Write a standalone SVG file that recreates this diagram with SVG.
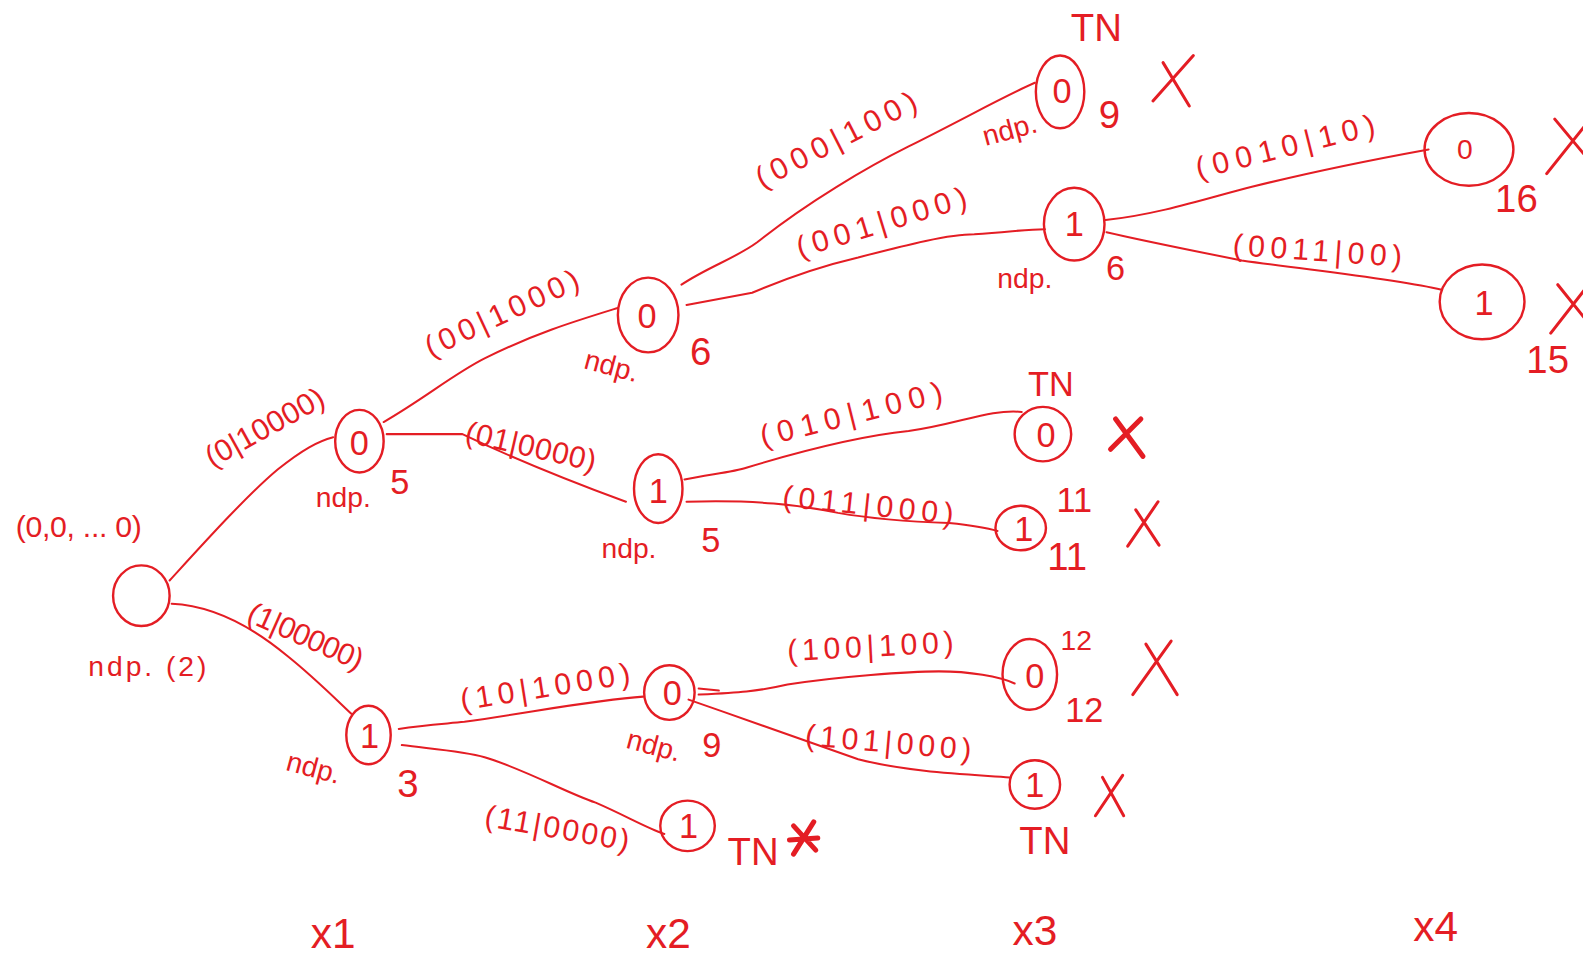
<svg xmlns="http://www.w3.org/2000/svg" width="1583" height="956" viewBox="0 0 1583 956">
<style>
.e{fill:none;stroke:#e41d24;stroke-width:2;stroke-linecap:round;stroke-linejoin:round}
.n{fill:none;stroke:#e41d24;stroke-width:2.4}
.x{fill:none;stroke:#e41d24;stroke-width:3;stroke-linecap:round}
.xb{fill:none;stroke:#e41d24;stroke-width:5;stroke-linecap:round}
text{fill:#e41d24;font-family:"Liberation Sans",Arial,sans-serif;text-anchor:middle;dominant-baseline:central}
.l{font-size:30px}
.d{font-size:34px}
.s{font-size:28px}
.b{font-size:38px}
.ax{font-size:42px}
</style>
<rect width="1583" height="956" fill="#fff"/>
<g transform="scale(1.0096)">
<g id="connectors">
<path class="e" d="M168,575 C200,540 245,490 275,465 C300,445 315,437 330,433"/>
<text class="l" x="262" y="423" transform="rotate(-29 262 423)" textLength="130" lengthAdjust="spacing">(0|10000)</text>
<path class="e" d="M170,598 C215,600 255,625 285,650 C310,670 330,690 348,707"/>
<text class="l" x="303" y="630" transform="rotate(24 303 630)" textLength="122" lengthAdjust="spacing">(1|00000)</text>
<path class="e" d="M380,418 C420,395 450,370 480,355 C530,330 570,318 612,305"/>
<text class="l" x="497" y="310" transform="rotate(-25 497 310)" textLength="165" lengthAdjust="spacing">(00|1000)</text>
<path class="e" d="M383,430 L458,430 C500,450 560,475 620,497"/>
<text class="l" x="526" y="442" transform="rotate(13 526 442)" textLength="132" lengthAdjust="spacing">(01|0000)</text>
<path class="e" d="M675,282 C700,265 730,255 750,240 C800,200 860,165 900,145 C960,115 995,95 1025,82"/>
<text class="l" x="828" y="138" transform="rotate(-27 828 138)" textLength="175" lengthAdjust="spacing">(000|100)</text>
<path class="e" d="M680,302 L745,290 C780,275 820,262 850,255 C900,242 940,232 965,232 C1000,230 1015,227 1035,227"/>
<text class="l" x="873" y="220" transform="rotate(-17 873 220)" textLength="175" lengthAdjust="spacing">(001|000)</text>
<path class="e" d="M1095,218 C1150,212 1200,195 1240,185 C1300,170 1360,158 1415,148"/>
<text class="l" x="1273" y="145" transform="rotate(-14 1273 145)" textLength="182" lengthAdjust="spacing">(0010|10)</text>
<path class="e" d="M1096,230 C1130,238 1190,250 1230,258 C1300,268 1380,276 1428,287"/>
<text class="l" x="1305" y="248" transform="rotate(4 1305 248)" textLength="168" lengthAdjust="spacing">(0011|00)</text>
<path class="e" d="M678,475 C700,470 725,468 740,463 C790,448 850,432 900,427 C950,420 980,405 1012,408"/>
<text class="l" x="843" y="410" transform="rotate(-14 843 410)" textLength="185" lengthAdjust="spacing">(010|100)</text>
<path class="e" d="M680,497 C750,495 790,500 830,508 C870,515 910,517 940,518 C960,520 975,522 988,526"/>
<text class="l" x="860" y="500" transform="rotate(6 860 500)" textLength="170" lengthAdjust="spacing">(011|000)</text>
<path class="e" d="M395,722 C420,718 440,717 460,715 C530,705 590,693 637,690"/>
<text class="l" x="540" y="680" transform="rotate(-9 540 680)" textLength="170" lengthAdjust="spacing">(10|1000)</text>
<path class="e" d="M398,738 C430,742 460,744 480,750 C520,762 560,785 590,795 C620,808 640,820 658,826"/>
<text class="l" x="552" y="820" transform="rotate(10 552 820)" textLength="145" lengthAdjust="spacing">(11|0000)</text>
<path class="e" d="M692,682 L712,684 M692,688 C730,686 750,685 780,678 C830,670 900,665 930,665 C960,665 990,670 1005,677"/>
<text class="l" x="862" y="640" transform="rotate(-3 862 640)" textLength="165" lengthAdjust="spacing">(100|100)</text>
<path class="e" d="M682,693 C740,713 800,735 850,752 C900,765 960,767 1000,770"/>
<text class="l" x="880" y="735" transform="rotate(5 880 735)" textLength="165" lengthAdjust="spacing">(101|000)</text>
</g>
<g id="root">
<ellipse class="n" cx="140" cy="590" rx="28" ry="30"/>
<text class="l" x="78" y="522" textLength="125" lengthAdjust="spacing">(0,0, ... 0)</text>
<text class="s" x="146" y="660" textLength="117" lengthAdjust="spacing">ndp. (2)</text>
</g>
<g id="n0">
<ellipse class="n" cx="356" cy="437" rx="24" ry="31"/>
<text class="d" x="356" y="439">0</text>
<text class="s" x="340" y="492">ndp.</text>
<text class="d" x="396" y="477">5</text>
</g>
<g id="n1">
<ellipse class="n" cx="365" cy="728" rx="22" ry="29"/>
<text class="d" x="366" y="729">1</text>
<text class="s" x="311" y="760" transform="rotate(15 311 760)">ndp.</text>
<text class="b" x="404" y="776">3</text>
</g>
<g id="n00">
<ellipse class="n" cx="642" cy="312" rx="30" ry="37"/>
<text class="d" x="641" y="313">0</text>
<text class="s" x="606" y="362" transform="rotate(15 606 362)">ndp.</text>
<text class="b" x="694" y="348">6</text>
</g>
<g id="n01">
<ellipse class="n" cx="652" cy="484" rx="24" ry="34"/>
<text class="d" x="652" y="486">1</text>
<text class="s" x="623" y="543">ndp.</text>
<text class="d" x="704" y="535">5</text>
</g>
<g id="n000">
<ellipse class="n" cx="1050" cy="91" rx="24" ry="36"/>
<text class="d" x="1052" y="90">0</text>
<text class="b" x="1086" y="27">TN</text>
<text class="s" x="1000" y="128" transform="rotate(-15 1000 128)">ndp.</text>
<text class="b" x="1099" y="113">9</text>
<path class="x" d="M1142,100 L1182,55 M1152,62 L1178,105"/>
</g>
<g id="n001">
<ellipse class="n" cx="1064" cy="222" rx="30" ry="36"/>
<text class="d" x="1064" y="222">1</text>
<text class="s" x="1015" y="275">ndp.</text>
<text class="d" x="1105" y="265">6</text>
</g>
<g id="n0010">
<ellipse class="n" cx="1455" cy="148" rx="44" ry="36"/>
<text class="s" x="1451" y="148">0</text>
<text class="b" x="1502" y="197">16</text>
<path class="x" d="M1532,172 L1575,118 M1540,118 L1575,160"/>
</g>
<g id="n0011">
<ellipse class="n" cx="1468" cy="299" rx="42" ry="37"/>
<text class="d" x="1470" y="300">1</text>
<text class="b" x="1533" y="356">15</text>
<path class="x" d="M1536,330 L1575,280 M1543,282 L1575,322"/>
</g>
<g id="n010">
<ellipse class="n" cx="1033" cy="430" rx="28" ry="27"/>
<text class="d" x="1036" y="431">0</text>
<text class="d" x="1041" y="380">TN</text>
<path class="xb" d="M1100,445 L1130,415 M1105,415 L1132,452"/>
</g>
<g id="n011">
<ellipse class="n" cx="1011" cy="523" rx="25" ry="22"/>
<text class="d" x="1014" y="524">1</text>
<text class="d" x="1064" y="495">11</text>
<text class="b" x="1057" y="551">11</text>
<path class="x" d="M1117,541 L1147,497 M1125,505 L1148,540"/>
</g>
<g id="n10">
<ellipse class="n" cx="663" cy="686" rx="25" ry="27"/>
<text class="d" x="666" y="686">0</text>
<text class="s" x="648" y="738" transform="rotate(15 648 738)">ndp.</text>
<text class="d" x="705" y="738">9</text>
</g>
<g id="n11">
<ellipse class="n" cx="681" cy="818" rx="27" ry="25"/>
<text class="d" x="682" y="818">1</text>
<text class="b" x="746" y="843">TN</text>
<path class="xb" d="M786,846 L806,814 M786,818 L808,842 M782,832 L810,830"/>
</g>
<g id="n100">
<ellipse class="n" cx="1020" cy="668" rx="27" ry="35"/>
<text class="d" x="1025" y="670">0</text>
<text class="s" x="1066" y="634">12</text>
<text class="d" x="1074" y="703">12</text>
<path class="x" d="M1122,688 L1160,635 M1135,638 L1166,688"/>
</g>
<g id="n101">
<ellipse class="n" cx="1025" cy="777" rx="25" ry="24"/>
<text class="d" x="1025" y="778">1</text>
<text class="b" x="1035" y="833">TN</text>
<path class="x" d="M1085,808 L1112,768 M1092,770 L1113,808"/>
</g>
<g id="axis">
<text class="ax" x="330" y="925">x1</text>
<text class="ax" x="662" y="925">x2</text>
<text class="ax" x="1025" y="922">x3</text>
<text class="ax" x="1422" y="918">x4</text>
</g>
</g>
</svg>
